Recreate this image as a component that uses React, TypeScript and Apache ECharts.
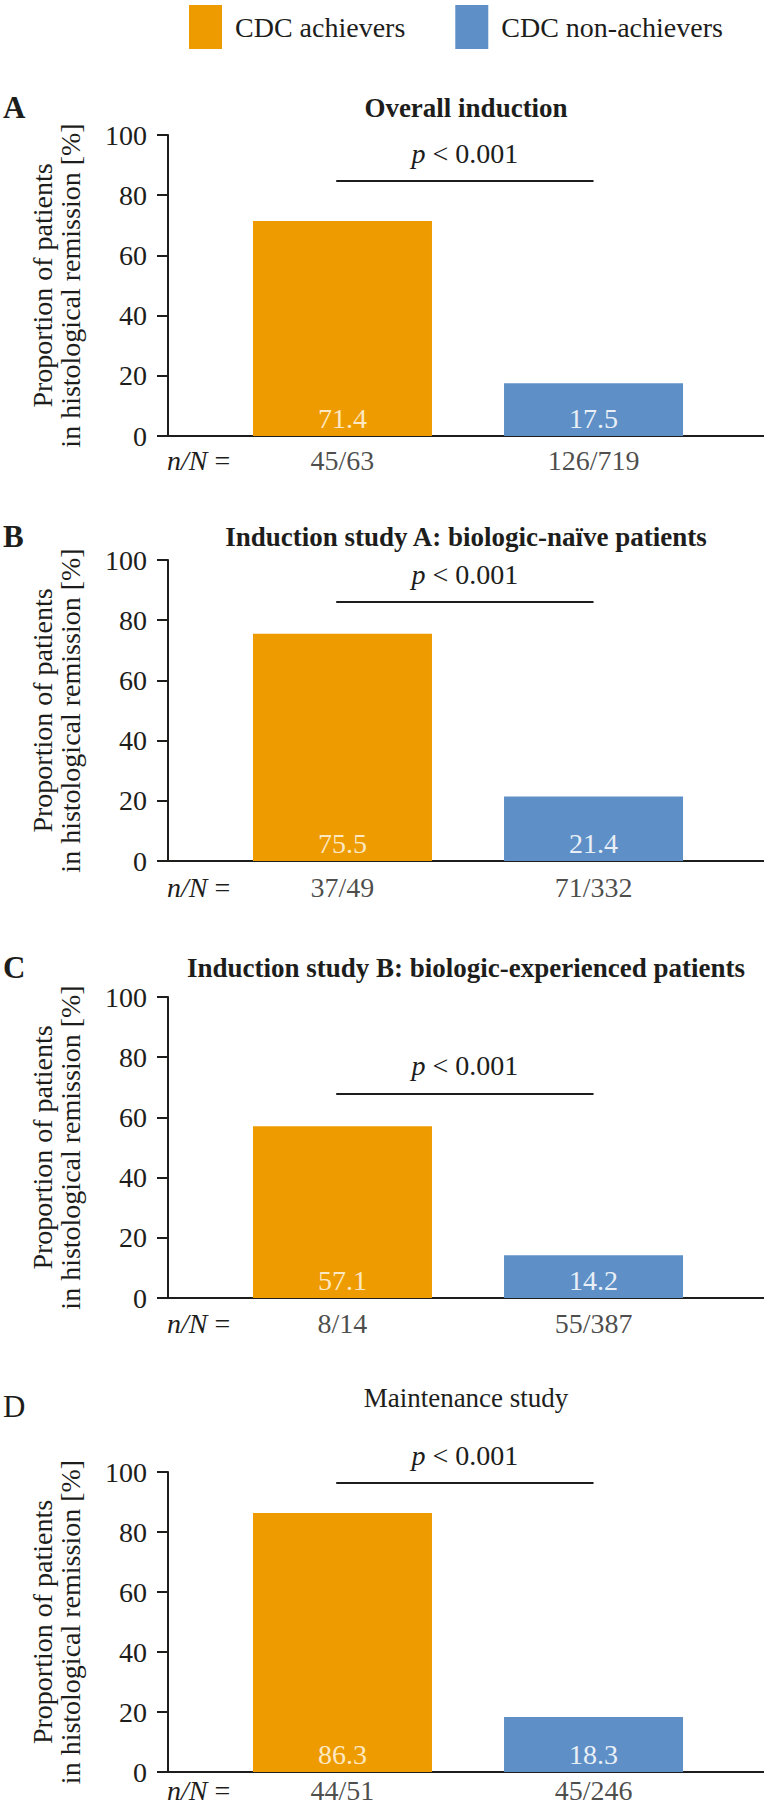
import React, { useEffect, useRef, useState } from 'react';
import * as echarts from 'echarts';

// ---------- data ----------
const groups = ['CDC achievers', 'CDC non-achievers'];
const panelLetters = ['A', 'B', 'C', 'D'];
const panelTitles = [
  'Overall induction',
  'Induction study A: biologic-naïve patients',
  'Induction study B: biologic-experienced patients',
  'Maintenance study',
];
const achieverPct = [71.4, 75.5, 57.1, 86.3];
const nonAchieverPct = [17.5, 21.4, 14.2, 18.3];
const achieverNN = ['45/63', '37/49', '8/14', '44/51'];
const nonAchieverNN = ['126/719', '71/332', '55/387', '45/246'];
const pValueText = ['< 0.001', '< 0.001', '< 0.001', '< 0.001'];
const yMin = 0;
const yMax = 100;
const yStep = 20;

// ---------- layout / style ----------
const W = 764;
const H = 1815;
const FONT = 'Liberation Serif';
const CSS_FONT = '"Liberation Serif", "Times New Roman", serif';
const TEXT = '#1d1d1b';
const ORANGE = '#EE9B00';
const BLUE = '#5E8FC6';
const ORANGE_LABEL = '#FCE8C2';
const BLUE_LABEL = '#E9EFF7';
const GRID_LEFT = 168;
const X_MIN = -0.695;
const X_MAX = 1.679;
const gridTop = [135, 560, 997, 1472];
const gridHeight = [301, 301, 301, 300];
const bracketLevel = [84.7, 86.0, 67.8, 96.3];
const titleY = [107.5, 536.5, 967.5, 1397.5];
const letterY = [107, 536, 967, 1406];
const titleBold = [true, true, true, false];
const nnOffset = [24, 26, 25, 18];

function buildOption() {
  const grids: any[] = [];
  const xAxes: any[] = [];
  const yAxes: any[] = [];
  const series: any[] = [];
  const graphics: any[] = [];

  for (let i = 0; i < 4; i++) {
    grids.push({ left: GRID_LEFT, right: 0, top: gridTop[i], height: gridHeight[i], containLabel: false });
    xAxes.push({
      type: 'value',
      gridIndex: i,
      min: X_MIN,
      max: X_MAX,
      axisLine: { show: true, onZero: false, lineStyle: { color: TEXT, width: 2 } },
      axisTick: { show: false },
      axisLabel: { show: false },
      splitLine: { show: false },
    });
    yAxes.push({
      type: 'value',
      gridIndex: i,
      min: yMin,
      max: yMax,
      interval: yStep,
      name: 'Proportion of patients\nin histological remission [%]',
      nameLocation: 'middle',
      nameGap: 84,
      nameTextStyle: { fontFamily: FONT, fontSize: 28, lineHeight: 28, color: TEXT },
      axisLine: { show: true, onZero: false, lineStyle: { color: TEXT, width: 2 } },
      axisTick: { show: true, length: 11, lineStyle: { color: TEXT, width: 2 } },
      axisLabel: { fontFamily: FONT, fontSize: 28, color: TEXT, margin: 21 },
      splitLine: { show: false },
    });

    series.push({
      type: 'bar',
      name: groups[0],
      xAxisIndex: i,
      yAxisIndex: i,
      barWidth: 179,
      barGap: '-100%',
      data: [[0, achieverPct[i]]],
      itemStyle: { color: ORANGE },
      label: {
        show: true,
        position: 'insideBottom',
        distance: 4,
        fontFamily: FONT,
        fontSize: 28,
        color: ORANGE_LABEL,
        formatter: (p: any) => Number(p.value[1]).toFixed(1),
      },
      markLine: {
        silent: true,
        symbol: ['none', 'none'],
        lineStyle: { color: TEXT, width: 2, type: 'solid' },
        emphasis: { disabled: true },
        label: {
          show: true,
          position: 'middle',
          distance: 14,
          formatter: '{i|p} ' + pValueText[i],
          fontFamily: FONT,
          fontSize: 28,
          color: TEXT,
          rich: { i: { fontFamily: FONT, fontSize: 28, fontStyle: 'italic', color: TEXT } },
        },
        data: [[{ coord: [-0.025, bracketLevel[i]] }, { coord: [1, bracketLevel[i]] }]],
      },
    });
    series.push({
      type: 'bar',
      name: groups[1],
      xAxisIndex: i,
      yAxisIndex: i,
      barWidth: 179,
      barGap: '-100%',
      data: [[1, nonAchieverPct[i]]],
      itemStyle: { color: BLUE },
      label: {
        show: true,
        position: 'insideBottom',
        distance: 4,
        fontFamily: FONT,
        fontSize: 28,
        color: BLUE_LABEL,
        formatter: (p: any) => Number(p.value[1]).toFixed(1),
      },
    });
    const nn = [achieverNN[i], nonAchieverNN[i]];
    series.push({
      type: 'scatter',
      name: 'nN' + i,
      xAxisIndex: i,
      yAxisIndex: i,
      symbolSize: 1,
      clip: false,
      silent: true,
      itemStyle: { color: 'rgba(0,0,0,0)' },
      data: [[0, 0], [1, 0]],
      label: {
        show: true,
        position: 'bottom',
        distance: nnOffset[i] - 14,
        fontFamily: FONT,
        fontSize: 28,
        lineHeight: 28,
        color: TEXT,
        formatter: (p: any) => nn[p.dataIndex],
      },
    });

    const axisY = gridTop[i] + gridHeight[i];
    graphics.push({
      type: 'text',
      x: 3,
      y: letterY[i],
      style: {
        text: panelLetters[i],
        fontFamily: FONT,
        fontSize: 31,
        fontWeight: titleBold[i] ? 'bold' : 'normal',
        fill: TEXT,
        align: 'left',
        verticalAlign: 'middle',
      },
    });
    graphics.push({
      type: 'text',
      x: GRID_LEFT + (W - GRID_LEFT) / 2,
      y: titleY[i],
      style: {
        text: panelTitles[i],
        fontFamily: FONT,
        fontSize: 27,
        fontWeight: titleBold[i] ? 'bold' : 'normal',
        fill: TEXT,
        align: 'center',
        verticalAlign: 'middle',
      },
    });
    graphics.push({
      type: 'text',
      x: 167,
      y: axisY + nnOffset[i],
      style: {
        text: '{i|n/N} =',
        fontFamily: FONT,
        fontSize: 28,
        fill: TEXT,
        align: 'left',
        verticalAlign: 'middle',
        rich: { i: { fontFamily: FONT, fontSize: 28, fontStyle: 'italic', fill: TEXT } },
      },
    });
  }

  return {
    animation: false,
    backgroundColor: '#ffffff',
    textStyle: { fontFamily: FONT, color: TEXT },
    legend: {
      data: groups,
      left: 184,
      top: 0,
      icon: 'rect',
      itemWidth: 33,
      itemHeight: 44,
      itemGap: 50,
      selectedMode: false,
      textStyle: { fontFamily: FONT, fontSize: 28, color: TEXT, padding: [0, 0, 0, 8] },
    },
    grid: grids,
    xAxis: xAxes,
    yAxis: yAxes,
    series,
    graphic: graphics,
  };
}

function forceSerif(root: HTMLElement | null) {
  if (!root) return;
  root.querySelectorAll('text, tspan').forEach((el) => {
    (el as SVGElement).style.fontFamily = CSS_FONT;
  });
}

export default function App() {
  const ref = useRef<HTMLDivElement>(null);
  const [, setReady] = useState(false);
  useEffect(() => {
    document.body.style.margin = '0';
    if (!ref.current) return;
    const chart = echarts.init(ref.current, undefined, { renderer: 'svg', width: W, height: H });
    chart.setOption(buildOption() as any);
    const fix = () => forceSerif(ref.current);
    fix();
    chart.on('finished', fix);
    const t1 = window.setTimeout(fix, 50);
    const t2 = window.setTimeout(fix, 300);
    setReady(true);
    return () => {
      window.clearTimeout(t1);
      window.clearTimeout(t2);
      chart.dispose();
    };
  }, []);
  return <div ref={ref} style={{ position: 'absolute', left: 0, top: 0, width: W, height: H, fontFamily: CSS_FONT }} />;
}
